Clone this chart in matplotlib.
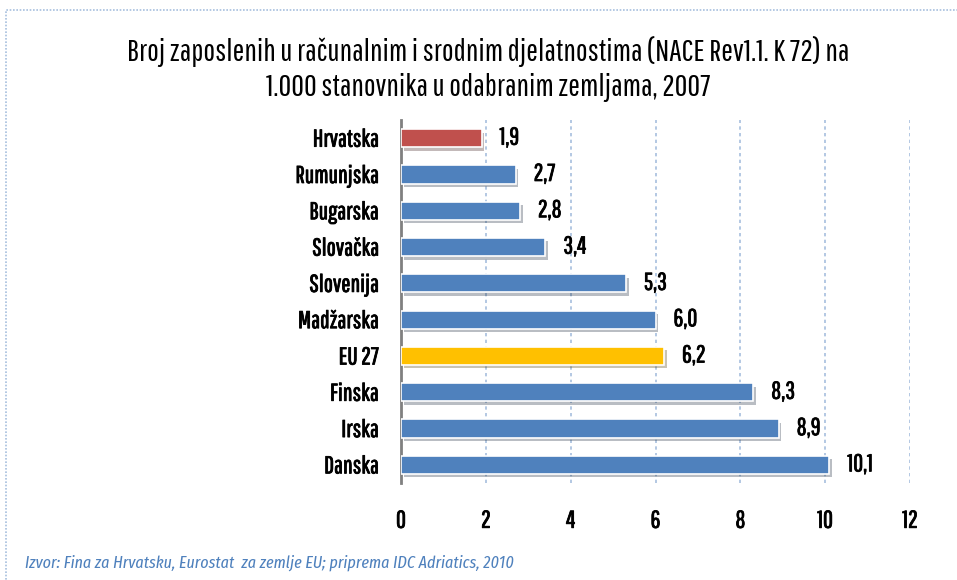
import matplotlib.pyplot as plt
import matplotlib.patheffects as pe
from matplotlib.patches import Rectangle

plt.rcParams["font.family"] = ["Pathway Gothic One", "DejaVu Sans"]

countries = ["Hrvatska", "Rumunjska", "Bugarska", "Slovačka", "Slovenija",
             "Madžarska", "EU 27", "Finska", "Irska", "Danska"]
values = [1.9, 2.7, 2.8, 3.4, 5.3, 6.0, 6.2, 8.3, 8.9, 10.1]
labels = ["1,9", "2,7", "2,8", "3,4", "5,3", "6,0", "6,2", "8,3", "8,9", "10,1"]
colors = ["#C0504D"] + ["#4F81BD"] * 5 + ["#FFC000"] + ["#4F81BD"] * 3

bold = [pe.withStroke(linewidth=0.6, foreground="black")]

fig = plt.figure(figsize=(9.57, 5.8), dpi=100)
ax = fig.add_axes([401 / 957, 1 - 483 / 580, 509 / 957, 363 / 580])

# okvir grafikona
fig.patches.append(Rectangle((6 / 957, -0.1), 1.2, 1 - 10 / 580 + 0.1,
                             transform=fig.transFigure, fill=False,
                             edgecolor="#A7BFDE", lw=1.2, ls=(0, (1, 1))))

y = list(range(len(countries)))
bars = ax.barh(y, values, height=0.5, color=colors, edgecolor="white",
               linewidth=1.2, zorder=3)
for b in bars:
    b.set_path_effects([pe.SimplePatchShadow(offset=(2, -2.5), alpha=0.3),
                        pe.Normal()])

for yi, v, t in zip(y, values, labels):
    ax.annotate(t, (v, yi), xytext=(13, 0), textcoords="offset points",
                ha="left", va="center", fontsize=17.5, path_effects=bold)

ax.set_xlim(0, 12)
ax.set_ylim(len(countries) - 0.5, -0.5)
ax.set_yticks(y)
ax.set_yticklabels(countries, fontsize=17.5)
ax.set_xticks(range(0, 13, 2))
ax.tick_params(axis="x", length=0, pad=20, labelsize=17.5)
ax.tick_params(axis="y", length=0, pad=16)
for lab in ax.get_xticklabels() + ax.get_yticklabels():
    lab.set_path_effects(bold)
ax.grid(axis="x", color="#A7BFDE", ls=(0, (2, 2)), lw=1.2, zorder=0)
for s in ["top", "right", "bottom"]:
    ax.spines[s].set_visible(False)
ax.spines["left"].set_color("#808080")
ax.spines["left"].set_linewidth(2)

fig.text(488 / 957, 1 - 52 / 580,
         "Broj zaposlenih u računalnim i srodnim djelatnostima (NACE Rev1.1. K 72) na",
         ha="center", va="center", fontsize=22.5)
fig.text(488 / 957, 1 - 87 / 580, "1.000 stanovnika u odabranim zemljama, 2007",
         ha="center", va="center", fontsize=22.5)
fig.text(25 / 957, 1 - 563 / 580,
         "Izvor: Fina za Hrvatsku, Eurostat  za zemlje EU; priprema IDC Adriatics, 2010",
         ha="left", va="center", fontsize=12.5, style="italic", color="#4F81BD",
         family=["Fira Sans Extra Condensed", "DejaVu Sans"])

fig.savefig("out.png", dpi=100)
